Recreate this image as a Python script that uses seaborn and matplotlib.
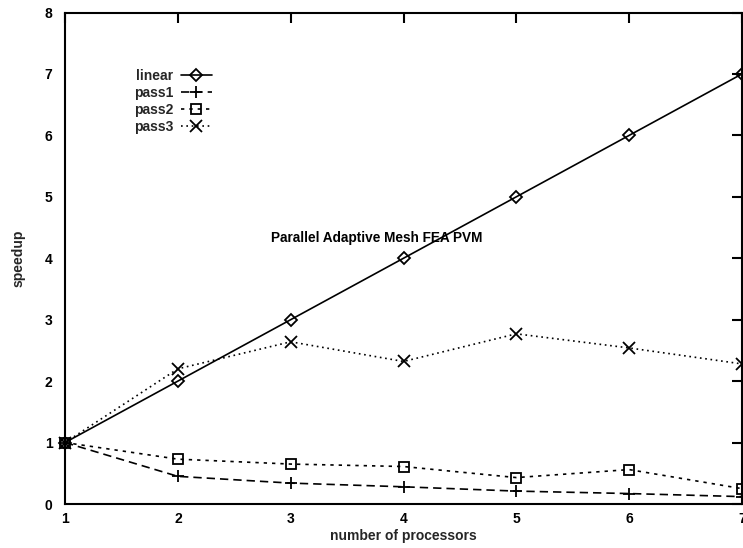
import matplotlib
matplotlib.use("Agg")
import matplotlib.pyplot as plt
import seaborn as sns
import pandas as pd

# Speedup measurements for the parallel adaptive mesh FEA code under PVM
processors = [1, 2, 3, 4, 5, 6, 7]
linear = [1, 2, 3, 4, 5, 6, 7]
pass1 = [1.0, 0.45, 0.34, 0.28, 0.21, 0.17, 0.12]
pass2 = [1.0, 0.73, 0.65, 0.61, 0.43, 0.56, 0.25]
pass3 = [1.0, 2.20, 2.64, 2.32, 2.77, 2.54, 2.28]

x_ticks = [1, 2, 3, 4, 5, 6, 7]
y_ticks = [0, 1, 2, 3, 4, 5, 6, 7, 8]
title = "Parallel Adaptive Mesh FEA PVM"

sns.set_theme(style="white")
plt.rcParams["font.family"] = ["Liberation Sans", "DejaVu Sans"]
plt.rcParams["font.weight"] = "bold"

fig = plt.figure(figsize=(7.43, 5.48), dpi=100)
ax = fig.add_axes([65 / 743, 44 / 548, 677 / 743, 491.5 / 548])

df = pd.DataFrame({"procs": processors, "linear": linear,
                   "pass1": pass1, "pass2": pass2, "pass3": pass3})

series = [
    ("linear", "D", "-", 6),
    ("pass1", "+", (0, (5, 3)), 9),
    ("pass2", "s", (0, (2, 3)), 7),
    ("pass3", "x", (0, (1, 2.2)), 8),
]

for name, marker, ls, ms in series:
    sns.lineplot(data=df, x="procs", y=name, ax=ax, label=name,
                 color="black", linewidth=1.2, linestyle=ls,
                 marker=marker, markersize=ms, markerfacecolor="none",
                 markeredgecolor="black", markeredgewidth=1.3,
                 clip_on=False)

ax.set_xlim(1, 7)
ax.set_ylim(0, 8)
ax.set_xticks(x_ticks)
ax.set_yticks(y_ticks)
ax.set_xticklabels([str(v) for v in x_ticks], fontweight="bold")
ax.set_yticklabels([str(v) for v in y_ticks], fontweight="bold")
ax.tick_params(axis="both", direction="in", top=True, right=True,
               length=7, width=1.5, labelsize=10, colors="black")
ax.tick_params(axis="y", pad=9)
ax.tick_params(axis="x", pad=6)

for sp in ax.spines.values():
    sp.set_visible(True)
    sp.set_color("black")
    sp.set_linewidth(1.5)

ax.set_xlabel("number of processors", fontsize=10, fontweight="bold", labelpad=2)
ax.set_ylabel("speedup", fontsize=10, fontweight="bold", labelpad=14)

ax.text(2.83, 4.33, title, fontsize=9.8, fontweight="bold",
        ha="left", va="center", color="black")

leg = ax.legend(loc="upper left", bbox_to_anchor=(0.094, 0.896),
                borderaxespad=0, frameon=False, markerfirst=False,
                handlelength=2.3, handletextpad=0.5, labelspacing=0.22,
                prop={"size": 10, "weight": "bold"}, numpoints=1)

fig.savefig("out.png", dpi=100)
